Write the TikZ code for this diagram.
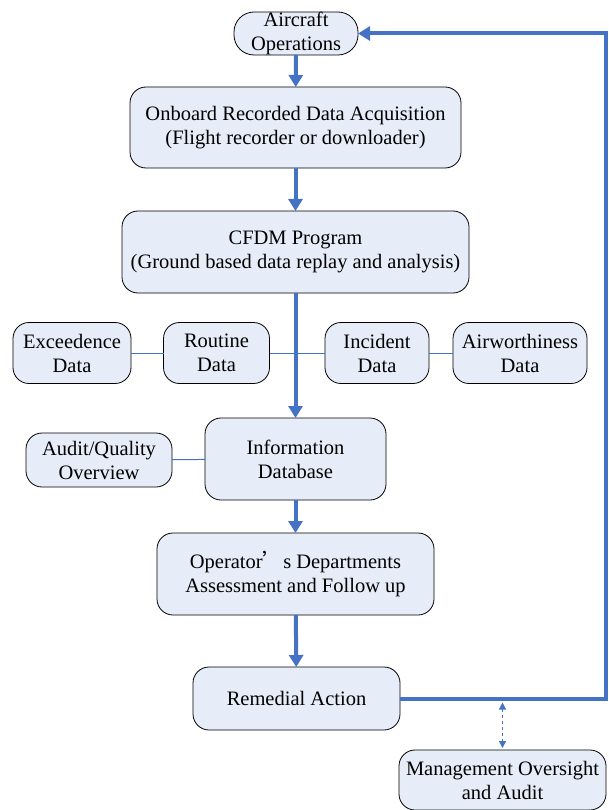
\documentclass[tikz,border=0pt]{standalone}
\usepackage{fontspec}
\setmainfont{Liberation Serif}
\newfontfamily\cjk{Noto Sans CJK SC}
\usetikzlibrary{arrows.meta}

\definecolor{boxfill}{RGB}{231,237,248}
\definecolor{flowblue}{RGB}{68,114,196}

\tikzset{
	stage/.style={draw=black, line width=0.8pt, fill=boxfill, rounded corners=16pt, align=center, inner sep=0pt, outer sep=0pt, font=\fontsize{20.5}{24}\selectfont},
	flow/.style={draw=flowblue, line width=4pt, -{Triangle[length=12pt,width=14pt]}},
	link/.style={draw=flowblue, line width=1pt},
	audit/.style={draw=flowblue, line width=1.2pt, dashed, {Triangle[length=7pt,width=7pt]}-{Triangle[length=7pt,width=7pt]}}
}

\begin{document}
\begin{tikzpicture}[x=1pt, y=-1pt]
		\useasboundingbox (0,0) rectangle (608,810);
		
		\node [stage, rounded corners=20pt, minimum width=124pt, minimum height=43pt] (aircraft) at (296,33.5) {Aircraft\\Operations};
		\node [stage, minimum width=331pt, minimum height=81pt] (onboard) at (295.5,127.5) {Onboard Recorded Data Acquisition\\(Flight recorder or downloader)};
		\node [stage, minimum width=347pt, minimum height=82pt] (cfdm) at (295.5,252) {CFDM Program\\(Ground based data replay and analysis)};
		
		\node [stage, minimum width=118pt, minimum height=61pt] (exceed) at (72,353) {Exceedence\\Data};
		\node [stage, minimum width=106pt, minimum height=61pt] (routine) at (216.5,353) {Routine\\Data};
		\node [stage, minimum width=104pt, minimum height=61pt] (incident) at (377,353) {Incident\\Data};
		\node [stage, minimum width=134pt, minimum height=61pt] (airworth) at (520,353) {Airworthiness\\Data};
		
		\node [stage, minimum width=146pt, minimum height=54pt] (quality) at (99,460) {Audit/Quality\\Overview};
		\node [stage, minimum width=181pt, minimum height=82pt] (infodb) at (295.5,459) {Information\\Database};
		\node [stage, minimum width=277pt, minimum height=82pt] (operator) at (295.5,574) {Operator{\cjk ’}s Departments\\Assessment and Follow up};
		\node [stage, minimum width=207pt, minimum height=63pt] (remedial) at (296.5,698.5) {Remedial Action};
		\node [stage, minimum width=207pt, minimum height=60pt] (mgmt) at (502.5,780) {Management Oversight\\and Audit};
		
		\coordinate (corner) at (606,33.5);
		
		\draw [flow] (aircraft) -- (onboard);
		\draw [flow] (onboard) -- (cfdm);
		\draw [flow] (cfdm) -- (infodb);
		\draw [flow] (infodb) -- (operator);
		\draw [flow] (operator) -- (remedial);
		\draw [flow] (remedial.east) -| (corner) -- (aircraft.east);
		
		\draw [link] (exceed) -- (routine);
		\draw [link] (routine) -- (incident);
		\draw [link] (incident) -- (airworth);
		\draw [link] (quality) -- (infodb);
		
		\draw [audit] ([yshift=-4pt]mgmt.north |- remedial.east) -- ([yshift=2pt]mgmt.north);
\end{tikzpicture}
\end{document}
